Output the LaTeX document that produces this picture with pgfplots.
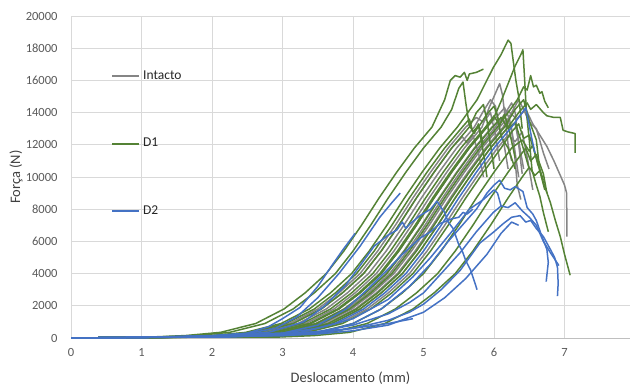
\documentclass[border=0pt]{standalone}
\usepackage{fontspec}
\setmainfont{Carlito}
\usepackage{pgfplots}
\pgfplotsset{compat=1.18}
\definecolor{cgray}{HTML}{858585}
\definecolor{cgreen}{HTML}{548235}
\definecolor{cblue}{HTML}{4472C4}
\definecolor{txt}{HTML}{595959}
\definecolor{ttl}{HTML}{404040}
\definecolor{leg}{HTML}{262626}
\definecolor{gridc}{HTML}{D9D9D9}
\definecolor{axc}{HTML}{BFBFBF}
\begin{document}
\begin{tikzpicture}
\useasboundingbox (-71bp,-48bp) rectangle (559bp,338bp);
\begin{axis}[
  scale only axis, width=559bp, height=322bp,
  xmin=0, xmax=7.929, ymin=0, ymax=20000,
  xtick={0,1,...,7}, ytick={0,2000,...,20000},
  scaled y ticks=false,
  grid=major, major grid style={gridc, line width=0.75bp},
  major tick length=0,
  axis x line=bottom, axis y line=left,
  x axis line style={axc, line width=0.75bp, -},
  y axis line style={draw=none},
  ticklabel style={font=\fontsize{12.5bp}{14bp}\selectfont, text=txt},
  /pgf/number format/assume math mode=true,
  /pgf/number format/1000 sep={},
  yticklabel style={xshift=-10bp},
  xticklabel style={yshift=-7bp},
  xlabel={Deslocamento (mm)}, ylabel={Força (N)},
  every axis x label/.style={font=\fontsize{14.5bp}{16bp}\selectfont, text=ttl, at={(axis description cs:0.5,-0.124)}, anchor=center},
  every axis y label/.style={font=\fontsize{14.5bp}{16bp}\selectfont, text=ttl, at={(axis description cs:-0.0984,0.5)}, rotate=90, anchor=center},
  legend image code/.code={\draw[#1, line width=2bp] (0bp,0bp) -- (27bp,0bp);},
  legend cell align=left,
  legend style={draw=none, fill=none, inner sep=0pt, outer sep=0pt, at={(axis cs:0.57,16627)}, anchor=north west,
    font=\fontsize{13.5bp}{15bp}\selectfont, row sep=55.5bp, column sep=3bp,
    nodes={inner sep=0pt, text height=9bp, text depth=3bp, text=leg}},
  every axis plot/.append style={line width=1.5bp, line join=round},
]
% ---------------- Intacto (gray) ----------------
\addplot[cgray] coordinates {(0,0)(1,40)(1.6,60)(2.1,150)(2.6,350)(3.1,900)(3.5,1800)(3.8,2800)(4.1,4000)(4.35,5400)(4.6,7000)(4.85,8700)(5.1,10300)(5.35,11800)(5.6,13100)(5.75,13700)(5.85,13400)(5.95,14000)(6.02,12600)(6.08,11000)};
\addlegendentry{Intacto}
\addplot[cgray, forget plot] coordinates {(0,0)(1,40)(1.72,60)(2.22,150)(2.72,350)(3.22,900)(3.62,1800)(3.92,2800)(4.22,4000)(4.47,5400)(4.72,7000)(4.97,8700)(5.22,10300)(5.47,11800)(5.72,13100)(5.85,14100)(5.95,14800)(6.02,14400)(6.08,13000)(6.14,12100)(6.2,10500)};
\addplot[cgray, forget plot] coordinates {(0,0)(1,40)(1.83,60)(2.33,150)(2.83,350)(3.33,900)(3.73,1800)(4.03,2800)(4.33,4000)(4.58,5400)(4.83,7000)(5.08,8700)(5.33,10300)(5.58,11800)(5.83,13100)(5.93,14300)(6.03,15300)(6.08,15800)(6.12,15100)(6.16,13600)(6.2,12000)(6.25,11000)};
\addplot[cgray, forget plot] coordinates {(0,0)(1,40)(1.9,60)(2.4,150)(2.9,350)(3.4,900)(3.8,1800)(4.1,2800)(4.4,4000)(4.65,5400)(4.9,7000)(5.15,8700)(5.4,10300)(5.65,11800)(5.9,13100)(6.05,13800)(6.15,14300)(6.22,13600)(6.28,12000)(6.33,9500)(6.38,8600)};
\addplot[cgray, forget plot] coordinates {(0,0)(1,40)(1.97,60)(2.47,150)(2.97,350)(3.47,900)(3.87,1800)(4.17,2800)(4.47,4000)(4.72,5400)(4.97,7000)(5.22,8700)(5.47,10300)(5.72,11800)(5.97,13100)(6.1,13500)(6.2,14100)(6.32,13600)(6.45,14200)(6.55,13300)(6.65,12600)(6.75,11900)(6.85,11000)(6.95,10000)(7.0,9500)(7.03,9000)(7.035,6300)};
\addplot[cgray, forget plot] coordinates {(0,0)(1,40)(2.02,60)(2.52,150)(3.02,350)(3.52,900)(3.92,1800)(4.22,2800)(4.52,4000)(4.77,5400)(5.02,7000)(5.27,8700)(5.52,10300)(5.77,11800)(6.02,13100)(6.15,13900)(6.25,14600)(6.3,14000)(6.35,12000)(6.4,10200)};
\addplot[cgray, forget plot] coordinates {(0,0)(1,40)(2.08,60)(2.58,150)(3.08,350)(3.58,900)(3.98,1800)(4.28,2800)(4.58,4000)(4.83,5400)(5.08,7000)(5.33,8700)(5.58,10300)(5.83,11800)(6.08,13100)(6.18,13600)(6.25,13000)(6.3,11500)(6.35,10000)};
\addplot[cgray, forget plot] coordinates {(0,0)(1,40)(2.13,60)(2.63,150)(3.13,350)(3.63,900)(4.03,1800)(4.33,2800)(4.63,4000)(4.88,5400)(5.13,7000)(5.38,8700)(5.63,10300)(5.88,11800)(6.13,13100)(6.25,14000)(6.35,14800)(6.42,14200)(6.5,13400)(6.6,13000)(6.7,11500)(6.78,10500)};
\addplot[cgray, forget plot] coordinates {(0,0)(1,40)(2.2,60)(2.7,150)(3.2,350)(3.7,900)(4.1,1800)(4.4,2800)(4.7,4000)(4.95,5400)(5.2,7000)(5.45,8700)(5.7,10300)(5.95,11800)(6.2,13100)(6.3,13300)(6.36,12000)(6.42,10500)};
\addplot[cgray, forget plot] coordinates {(0,0)(1,40)(2.3,60)(2.8,150)(3.3,350)(3.8,900)(4.2,1800)(4.5,2800)(4.8,4000)(5.05,5400)(5.3,7000)(5.55,8700)(5.8,10300)(6.05,11800)(6.2,12600)(6.3,12200)(6.4,12800)(6.48,11000)(6.55,9200)};
\addplot[cgray, forget plot] coordinates {(0,0)(1,40)(1.65,60)(2.15,150)(2.65,350)(3.15,900)(3.55,1800)(3.85,2800)(4.15,4000)(4.4,5400)(4.65,7000)(4.9,8700)(5.15,10300)(5.4,11800)(5.55,12500)(5.62,12100)(5.7,12600)(5.78,11500)(5.85,10000)};
% ---------------- D1 (green) ----------------
\addplot[cgreen] coordinates {(0,0)(1,40)(1.12,60)(1.62,150)(2.12,350)(2.62,900)(3.02,1800)(3.32,2800)(3.62,4000)(3.87,5400)(4.12,7000)(4.37,8700)(4.62,10300)(4.87,11800)(5.12,13100)(5.3,14800)(5.38,16000)(5.45,16300)(5.52,16200)(5.58,16500)(5.62,16000)(5.65,16400)(5.75,16500)(5.85,16700)};
\addlegendentry{D1}
\addplot[cgreen, forget plot] coordinates {(0,0)(1,40)(1.25,60)(1.75,150)(2.25,350)(2.75,900)(3.15,1800)(3.45,2800)(3.75,4000)(4.0,5400)(4.25,7000)(4.5,8700)(4.75,10300)(5.0,11800)(5.25,13100)(5.4,14200)(5.5,15500)(5.56,15900)(5.6,14600)(5.65,13200)(5.72,12700)(5.78,13300)(5.85,12000)};
\addplot[cgreen, forget plot] coordinates {(0,0)(1,40)(1.48,60)(1.98,150)(2.48,350)(2.98,900)(3.38,1800)(3.68,2800)(3.98,4000)(4.23,5400)(4.48,7000)(4.73,8700)(4.98,10300)(5.23,11800)(5.48,13100)(5.76,14800)(5.99,16800)(6.1,17600)(6.2,18500)(6.24,18300)(6.27,17300)(6.31,16000)(6.35,15000)(6.4,13000)};
\addplot[cgreen, forget plot] coordinates {(0,0)(1,40)(1.55,60)(2.05,150)(2.55,350)(3.05,900)(3.45,1800)(3.75,2800)(4.05,4000)(4.3,5400)(4.55,7000)(4.8,8700)(5.05,10300)(5.3,11800)(5.55,13100)(5.65,13600)(5.7,12800)(5.78,13200)(5.85,11500)(5.9,10000)};
\addplot[cgreen, forget plot] coordinates {(0,0)(1,40)(1.65,60)(2.15,150)(2.65,350)(3.15,900)(3.55,1800)(3.85,2800)(4.15,4000)(4.4,5400)(4.65,7000)(4.9,8700)(5.15,10300)(5.4,11800)(5.65,13100)(5.75,14000)(5.85,14500)(5.9,13500)(5.95,12000)(6.0,10500)};
\addplot[cgreen, forget plot] coordinates {(0,0)(1,40)(1.78,60)(2.28,150)(2.78,350)(3.28,900)(3.68,1800)(3.98,2800)(4.28,4000)(4.53,5400)(4.78,7000)(5.03,8700)(5.28,10300)(5.53,11800)(5.78,13100)(5.9,13900)(6.0,14400)(6.05,13800)(6.1,12500)(6.2,11800)(6.3,10500)};
\addplot[cgreen, forget plot] coordinates {(0,0)(1,40)(1.88,60)(2.38,150)(2.88,350)(3.38,900)(3.78,1800)(4.08,2800)(4.38,4000)(4.63,5400)(4.88,7000)(5.13,8700)(5.38,10300)(5.63,11800)(5.88,13100)(6.0,13800)(6.08,13200)(6.15,13900)(6.22,12800)(6.3,11200)};
\addplot[cgreen, forget plot] coordinates {(0,0)(1,40)(1.9,60)(2.4,150)(2.9,350)(3.4,900)(3.8,1800)(4.1,2800)(4.4,4000)(4.65,5400)(4.9,7000)(5.15,8700)(5.4,10300)(5.65,11800)(5.9,13100)(5.99,13600)(6.1,14700)(6.2,15800)(6.3,16900)(6.38,17600)(6.41,17900)(6.43,16400)(6.46,14000)(6.5,12300)(6.54,10400)(6.6,9500)(6.65,8800)(6.7,7800)(6.77,6600)};
\addplot[cgreen, forget plot] coordinates {(0,0)(1,40)(1.98,60)(2.48,150)(2.98,350)(3.48,900)(3.88,1800)(4.18,2800)(4.48,4000)(4.73,5400)(4.98,7000)(5.23,8700)(5.48,10300)(5.73,11800)(5.98,13100)(6.1,13700)(6.2,13000)(6.3,13400)(6.4,12000)(6.5,10500)};
\addplot[cgreen, forget plot] coordinates {(0,0)(1,40)(2.05,60)(2.55,150)(3.05,350)(3.55,900)(3.95,1800)(4.25,2800)(4.55,4000)(4.8,5400)(5.05,7000)(5.3,8700)(5.55,10300)(5.8,11800)(6.05,13100)(6.2,14000)(6.33,14800)(6.42,15600)(6.47,15400)(6.52,16300)(6.56,15600)(6.6,15700)(6.65,15200)(6.68,15300)(6.72,14700)(6.77,14300)};
\addplot[cgreen, forget plot] coordinates {(0,0)(1,40)(2.15,60)(2.65,150)(3.15,350)(3.65,900)(4.05,1800)(4.35,2800)(4.65,4000)(4.9,5400)(5.15,7000)(5.4,8700)(5.65,10300)(5.9,11800)(6.15,13100)(6.3,14200)(6.42,14800)(6.5,13500)(6.6,12300)(6.65,10400)(6.72,9400)(6.8,8400)(6.87,7300)(6.94,6300)(7.0,5200)(7.08,3900)};
\addplot[cgreen, forget plot] coordinates {(0,0)(1,40)(2.2,60)(2.7,150)(3.2,350)(3.7,900)(4.1,1800)(4.4,2800)(4.7,4000)(4.95,5400)(5.2,7000)(5.45,8700)(5.7,10300)(5.95,11800)(6.2,13100)(6.35,14000)(6.47,14600)(6.52,14200)(6.6,14500)(6.7,14000)(6.75,13800)(6.85,13700)(6.94,13700)(6.98,12900)(7.05,12800)(7.15,12700)(7.15,11500)};
\addplot[cgreen, forget plot] coordinates {(0,0)(1,40)(2.35,60)(2.85,150)(3.35,350)(3.85,900)(4.25,1800)(4.55,2800)(4.85,4000)(5.1,5400)(5.35,7000)(5.6,8700)(5.85,10300)(6.1,11800)(6.25,12800)(6.35,13300)(6.42,12400)(6.5,12600)(6.6,11200)(6.68,10000)};
\addplot[cgreen, forget plot] coordinates {(0,0)(1,40)(2.5,60)(3.0,150)(3.5,350)(4.0,900)(4.4,1800)(4.7,2800)(5.0,4000)(5.25,5400)(5.5,7000)(5.75,8700)(6.0,10300)(6.25,11800)(6.4,12300)(6.5,11600)(6.55,12000)(6.62,10800)(6.7,9800)};
\addplot[cgreen, forget plot] coordinates {(0,0)(1,40)(2.7,60)(3.2,150)(3.7,350)(4.2,900)(4.6,1800)(4.9,2800)(5.2,4000)(5.45,5400)(5.7,7000)(5.95,8700)(6.2,10300)(6.35,11200)(6.45,11800)(6.52,11000)(6.6,11400)(6.7,10200)(6.75,9000)};
\addplot[cgreen, forget plot] coordinates {(0,0)(1,40)(2.95,60)(3.45,150)(3.95,350)(4.45,900)(4.85,1800)(5.15,2800)(5.45,4000)(5.7,5400)(5.95,7000)(6.2,8700)(6.4,10000)(6.5,10600)(6.58,10100)(6.65,10400)(6.72,9200)};
% ---------------- D2 (blue) ----------------
\addplot[cblue] coordinates {(0,0)(1,40)(2,150)(2.5,300)(2.8,700)(3.0,1200)(3.25,1900)(3.5,3200)(3.7,4500)(3.86,5500)(4.03,6500)};
\addlegendentry{D2}
\addplot[cblue, forget plot] coordinates {(0,0)(1,40)(2,130)(2.5,280)(2.9,600)(3.2,1300)(3.5,2500)(3.8,4000)(4.1,5700)(4.38,7500)(4.55,8400)(4.67,9000)};
\addplot[cblue, forget plot] coordinates {(0,0)(1,40)(2,120)(2.8,350)(3.3,1000)(3.6,2000)(3.9,3300)(4.1,4500)(4.3,5700)(4.5,6400)(4.62,6700)(4.7,7200)(4.75,6800)(4.81,7100)(4.95,7600)(5.1,8000)(5.19,8500)(5.25,8100)(5.3,7800)(5.35,7200)(5.42,6800)(5.5,5800)(5.55,5400)(5.6,4800)(5.67,4200)(5.76,3000)};
\addplot[cblue, forget plot] coordinates {(0,0)(1,40)(2,110)(3,300)(3.5,800)(3.9,1800)(4.2,3000)(4.48,4200)(4.7,5200)(4.95,6200)(5.1,6600)(5.23,7100)(5.4,7400)(5.5,7500)(5.56,7800)(5.62,7700)(5.7,8000)};
\addplot[cblue, forget plot] coordinates {(0,0)(1,40)(2.25,60)(2.75,150)(3.25,350)(3.75,900)(4.15,1800)(4.45,2800)(4.75,4000)(5.0,5400)(5.25,7000)(5.5,8700)(5.75,10300)(6.0,11800)(6.25,13100)(6.35,13700)(6.45,14300)(6.5,13200)(6.54,12300)(6.58,11500)};
\addplot[cblue, forget plot] coordinates {(0,0)(1,40)(2,100)(3,200)(3.6,400)(4.0,900)(4.4,1800)(4.8,3200)(5.1,4600)(5.35,6000)(5.55,7000)(5.75,8000)(5.9,9000)(6.0,9500)(6.08,9800)(6.15,9300)(6.23,9200)(6.3,9400)(6.41,9100)(6.47,8100)(6.55,7700)(6.6,7300)(6.68,6300)(6.75,5500)(6.77,4700)(6.74,3500)};
\addplot[cblue, forget plot] coordinates {(0,0)(1,40)(2,100)(3,150)(3.5,300)(4.0,600)(4.5,1100)(4.8,1600)(5.0,2100)(5.25,3000)(5.52,4200)(5.8,5900)(6.0,6600)(6.13,7100)(6.25,7500)(6.37,7600)(6.45,7200)(6.52,7300)(6.6,6800)(6.7,6300)(6.8,5500)(6.86,5000)(6.9,4400)(6.91,3400)(6.9,2600)};
\addplot[cblue, forget plot] coordinates {(0,0)(1,40)(2,100)(3,200)(3.5,400)(4.0,800)(4.5,1500)(4.8,2200)(5.0,2800)(5.25,4000)(5.52,5300)(5.75,6600)(5.99,7800)(6.1,8200)(6.2,8100)(6.3,8400)(6.4,7900)(6.5,7500)(6.6,7000)(6.7,6000)(6.8,5300)(6.92,4500)};
\addplot[cblue, forget plot] coordinates {(0,0)(1,40)(2,100)(3,250)(3.5,400)(4.0,600)(4.5,900)(4.85,1200)};
\addplot[cblue, forget plot] coordinates {(0,0)(1,40)(2,100)(3,300)(3.5,600)(4.0,1200)(4.5,2400)(4.85,3800)(5.1,5000)(5.4,6600)(5.65,8000)(5.85,8600)(6.0,9200)(6.05,9000)(6.1,8200)};
\addplot[cblue, forget plot] coordinates {(0,0)(1,30)(2,80)(3,150)(3.5,250)(4.0,450)(4.5,800)(5.0,1600)(5.3,2500)(5.6,3700)(5.9,5200)(6.1,6500)(6.25,7200)(6.35,7000)};
\end{axis}
\end{tikzpicture}
\end{document}
